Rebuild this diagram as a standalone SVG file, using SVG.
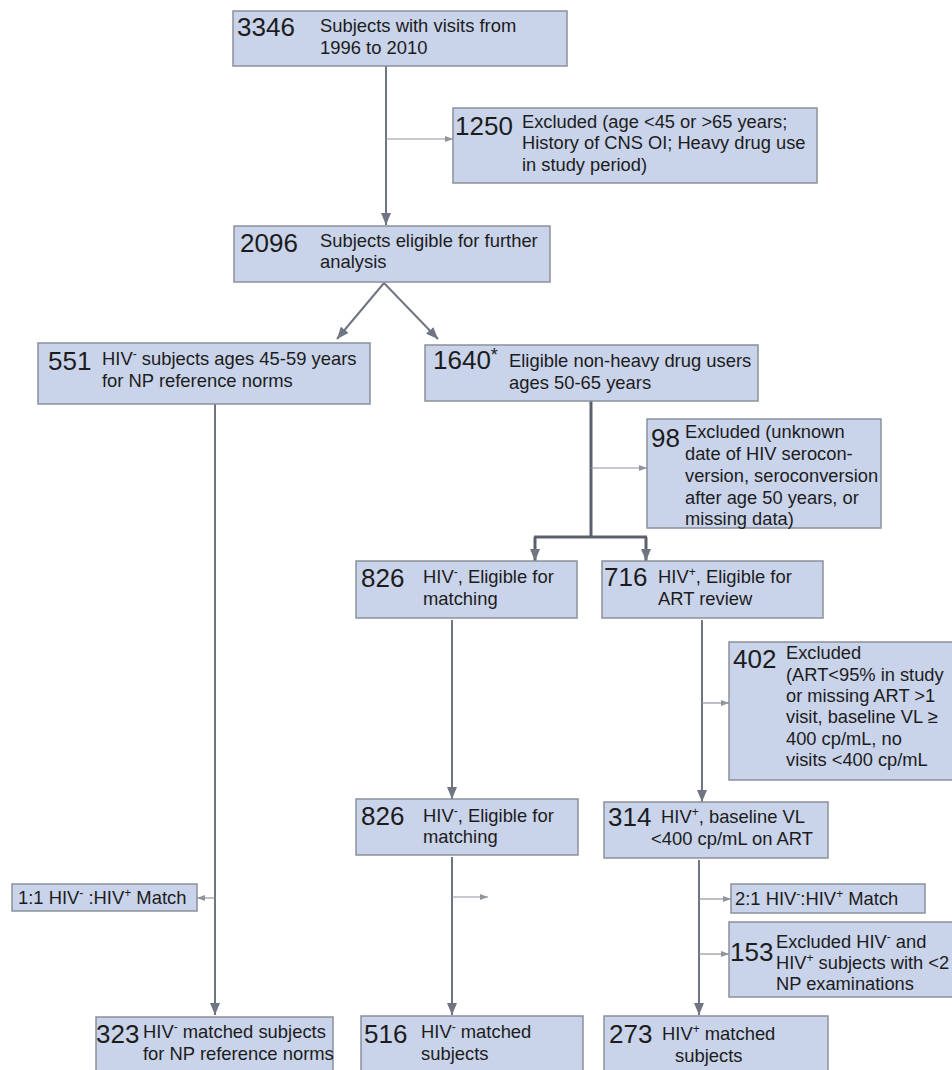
<svg xmlns="http://www.w3.org/2000/svg" width="952" height="1070" viewBox="0 0 952 1070">
<style>
.box{fill:#c9d3ea;stroke:#8b909a;stroke-width:1.5}
text{font-family:"Liberation Sans",Arial,sans-serif;fill:#1c1c1c}
.num{font-size:26px}
.t{font-size:18.4px}
.s{font-size:18.3px}
.sup{font-size:12px}
.ln{stroke:#6f7581;stroke-width:2;fill:none}
.thk{stroke:#5b606a;stroke-width:3;fill:none}
.br{stroke:#8f949d;stroke-width:1.2;fill:none}
</style>
<defs>
<marker id="ah" viewBox="0 0 12 10" refX="12" refY="5" markerWidth="12" markerHeight="10" markerUnits="userSpaceOnUse" orient="auto">
<path d="M0,0 L12,5 L0,10 z" fill="#6f7581"/>
</marker>
<marker id="as" viewBox="0 0 8 6" refX="8" refY="3" markerWidth="8" markerHeight="6" markerUnits="userSpaceOnUse" orient="auto">
<path d="M0,0 L8,3 L0,6 z" fill="#8f949d"/>
</marker>
</defs>

<g id="connectors">
<line class="ln" x1="386" y1="66" x2="386" y2="225" marker-end="url(#ah)"/>
<line class="br" x1="386" y1="139" x2="453" y2="139" marker-end="url(#as)"/>
<line class="ln" x1="384" y1="283" x2="337" y2="339" marker-end="url(#ah)"/>
<line class="ln" x1="384" y1="283" x2="438" y2="339" marker-end="url(#ah)"/>
<line class="ln" x1="215" y1="404" x2="215" y2="1015" marker-end="url(#ah)"/>
<line class="br" x1="215" y1="898" x2="197" y2="898" marker-end="url(#as)"/>
<path class="thk" d="M591,401 V537 M534,537 H647"/>
<line class="thk" x1="535" y1="537" x2="535" y2="561" marker-end="url(#ah)"/>
<line class="thk" x1="646" y1="537" x2="646" y2="561" marker-end="url(#ah)"/>
<line class="br" x1="591" y1="468" x2="647" y2="468" marker-end="url(#as)"/>
<line class="ln" x1="452" y1="620" x2="452" y2="799" marker-end="url(#ah)"/>
<line class="ln" x1="702" y1="620" x2="702" y2="802" marker-end="url(#ah)"/>
<line class="br" x1="702" y1="703" x2="729" y2="703" marker-end="url(#as)"/>
<line class="ln" x1="452" y1="857" x2="452" y2="1015" marker-end="url(#ah)"/>
<line class="br" x1="452" y1="897" x2="488" y2="897" marker-end="url(#as)"/>
<line class="ln" x1="699" y1="860" x2="699" y2="1015" marker-end="url(#ah)"/>
<line class="br" x1="699" y1="899" x2="731" y2="899" marker-end="url(#as)"/>
<line class="br" x1="699" y1="954" x2="729" y2="954" marker-end="url(#as)"/>
</g>

<g id="n3346">
<rect class="box" x="233" y="11" width="334" height="55"/>
<text class="num" x="237" y="36">3346</text>
<text class="t" x="320" y="32">Subjects with visits from</text>
<text class="t" x="320" y="54">1996 to 2010</text>
</g>

<g id="n1250">
<rect class="box" x="453" y="108" width="364" height="75"/>
<text class="num" x="455" y="135">1250</text>
<text class="s" x="522" y="128">Excluded (age &lt;45 or &gt;65 years;</text>
<text class="s" x="522" y="149">History of CNS OI; Heavy drug use</text>
<text class="s" x="522" y="171">in study period)</text>
</g>

<g id="n2096">
<rect class="box" x="234" y="226" width="316" height="56"/>
<text class="num" x="240" y="252">2096</text>
<text class="t" x="320" y="247">Subjects eligible for further</text>
<text class="t" x="320" y="268">analysis</text>
</g>

<g id="n551">
<rect class="box" x="38" y="343" width="332" height="61"/>
<text class="num" x="48" y="370">551</text>
<text class="t" x="102" y="365">HIV<tspan class="sup" dy="-7">-</tspan><tspan dy="7"> subjects ages 45-59 years</tspan></text>
<text class="t" x="102" y="387">for NP reference norms</text>
</g>

<g id="n1640">
<rect class="box" x="425" y="345" width="333" height="56"/>
<text class="num" x="433" y="369">1640<tspan style="font-size:18px" dy="-8">*</tspan></text>
<text class="t" x="509" y="367">Eligible non-heavy drug users</text>
<text class="t" x="509" y="389">ages 50-65 years</text>
</g>

<g id="n98">
<rect class="box" x="647" y="419" width="234" height="109"/>
<text class="num" x="651" y="447">98</text>
<text class="s" x="685" y="438">Excluded (unknown</text>
<text class="s" x="685" y="460">date of  HIV serocon-</text>
<text class="s" x="685" y="482">version, seroconversion</text>
<text class="s" x="685" y="504">after age 50 years, or</text>
<text class="s" x="685" y="525">missing data)</text>
</g>

<g id="n826a">
<rect class="box" x="356" y="561" width="221" height="57"/>
<text class="num" x="361" y="587">826</text>
<text class="t" x="423" y="583">HIV<tspan class="sup" dy="-7">-</tspan><tspan dy="7">, Eligible for</tspan></text>
<text class="t" x="423" y="605">matching</text>
</g>

<g id="n716">
<rect class="box" x="602" y="561" width="221" height="57"/>
<text class="num" x="604" y="586">716</text>
<text class="t" x="658" y="583">HIV<tspan class="sup" dy="-7">+</tspan><tspan dy="7">, Eligible for</tspan></text>
<text class="t" x="658" y="605">ART review</text>
</g>

<g id="n402">
<rect class="box" x="729" y="642" width="240" height="138"/>
<text class="num" x="733" y="668">402</text>
<text class="s" x="786" y="659">Excluded</text>
<text class="s" x="786" y="681">(ART&lt;95% in study</text>
<text class="s" x="786" y="702">or missing ART &gt;1</text>
<text class="s" x="786" y="723">visit, baseline VL ≥</text>
<text class="s" x="786" y="745">400 cp/mL, no</text>
<text class="s" x="786" y="766">visits &lt;400 cp/mL</text>
</g>

<g id="n826b">
<rect class="box" x="356" y="799" width="222" height="56"/>
<text class="num" x="361" y="825">826</text>
<text class="t" x="423" y="822">HIV<tspan class="sup" dy="-7">-</tspan><tspan dy="7">, Eligible for</tspan></text>
<text class="t" x="423" y="843">matching</text>
</g>

<g id="n314">
<rect class="box" x="604" y="802" width="224" height="56"/>
<text class="num" x="608" y="826">314</text>
<text class="t" x="661" y="823">HIV<tspan class="sup" dy="-7">+</tspan><tspan dy="7">, baseline VL</tspan></text>
<text class="t" x="651" y="845">&lt;400 cp/mL on ART</text>
</g>

<g id="n11">
<rect class="box" x="12" y="884" width="185" height="27"/>
<text class="t" x="18" y="904">1:1 HIV<tspan class="sup" dy="-7">-</tspan><tspan dy="7"> :HIV</tspan><tspan class="sup" dy="-7">+</tspan><tspan dy="7"> Match</tspan></text>
</g>

<g id="n21">
<rect class="box" x="731" y="884" width="194" height="29"/>
<text class="t" x="735" y="905">2:1 HIV<tspan class="sup" dy="-7">-</tspan><tspan dy="7">:HIV</tspan><tspan class="sup" dy="-7">+</tspan><tspan dy="7"> Match</tspan></text>
</g>

<g id="n153">
<rect class="box" x="729" y="922" width="240" height="75"/>
<text class="num" x="730" y="961">153</text>
<text class="s" x="776" y="948">Excluded HIV<tspan class="sup" dy="-7">-</tspan><tspan dy="7"> and</tspan></text>
<text class="s" x="776" y="969">HIV<tspan class="sup" dy="-7">+</tspan><tspan dy="7"> subjects with &lt;2</tspan></text>
<text class="s" x="776" y="990">NP examinations</text>
</g>

<g id="n323">
<rect class="box" x="96" y="1017" width="237" height="60"/>
<text class="num" x="96" y="1043">323</text>
<text class="t" x="143" y="1038">HIV<tspan class="sup" dy="-7">-</tspan><tspan dy="7"> matched subjects</tspan></text>
<text class="t" x="143" y="1060">for NP reference norms</text>
</g>

<g id="n516">
<rect class="box" x="361" y="1016" width="222" height="60"/>
<text class="num" x="364" y="1043">516</text>
<text class="t" x="421" y="1038">HIV<tspan class="sup" dy="-7">-</tspan><tspan dy="7"> matched</tspan></text>
<text class="t" x="421" y="1060">subjects</text>
</g>

<g id="n273">
<rect class="box" x="604" y="1016" width="224" height="60"/>
<text class="num" x="609" y="1043">273</text>
<text class="t" x="662" y="1040">HIV<tspan class="sup" dy="-7">+</tspan><tspan dy="7"> matched</tspan></text>
<text class="t" x="675" y="1062">subjects</text>
</g>
</svg>
